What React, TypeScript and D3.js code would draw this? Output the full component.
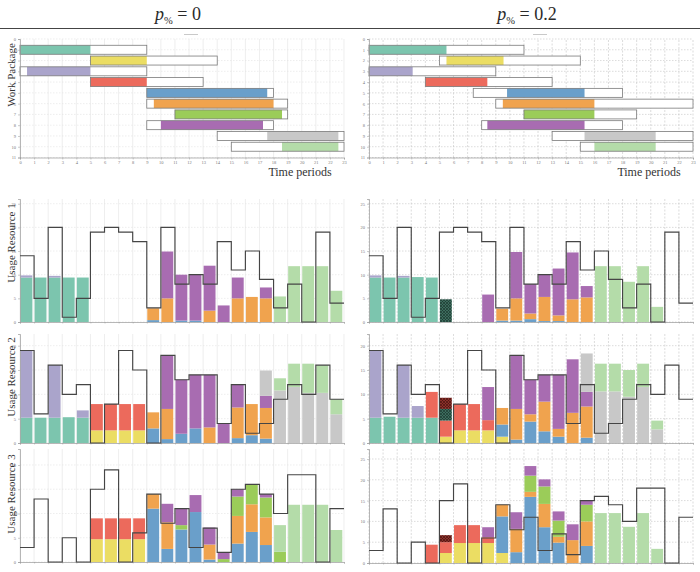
import React, { useEffect, useRef } from 'react';
import * as d3 from 'd3';

// time axis: 23 periods, boundaries 0..23
const periods = d3.range(23);
const xTicks = d3.range(24);
const rowTicks = d3.range(12);

const wpColors = ['#7cc5ae', '#ebdd63', '#aaa4cb', '#ec6a5c', '#6a9fca', '#f0a34e', '#9bcc59', '#a86cb1', '#c8c8c8', '#b4dca9'];

// work package windows (earliest start / latest finish) and the realised run, p% = 0
const winStart0 = [0, 5, 0, 5, 9, 9, 11, 9, 14, 15];
const winEnd0 = [9, 14, 9, 13, 18, 19, 19, 18, 23, 23];
const runStart0 = [0, 5, 0.5, 5, 9, 9.5, 11, 10, 17.55, 18.6];
const runEnd0 = [5, 9, 5, 9, 17.55, 18, 18.6, 17.25, 22.6, 22.6];

// same for p% = 0.2
const winStart2 = [0, 5, 0, 4, 7.4, 9, 11, 8, 13, 15];
const winEnd2 = [11, 15, 9, 13, 18, 23, 19, 18, 23, 23];
const runStart2 = [0, 5.5, 0, 4, 9.8, 9.5, 11, 8.4, 15.3, 16];
const runEnd2 = [5.5, 9.55, 3.1, 8.4, 15.3, 16, 16, 15.3, 20.35, 20.35];

// resource availability per period
const cap1 = [14, 5, 20, 1, 5, 19, 20, 19, 17, 3, 20, 8, 10, 8, 17, 11, 15, 9, 3, 8, 0, 19, 4];
const cap2 = [19, 6, 16, 10, 12, 0, 8, 19, 15, 0, 18, 13, 14, 14, 4, 12, 2, 4, 9, 12, 10, 16, 9];
const cap3 = [3, 13, 0, 5, 0, 15, 19, 0, 6, 14, 8, 11, 3, 7, 2, 15, 16, 14, 10, 18, 18, 0, 11];

// usage per work package: values start at the given period
// resource 1, p% = 0
const r1a_wp1 = [9.4, 9.4, 9.4, 9.4, 9.4];
const r1a_wp3 = [0.45, 0, 0.35];
const r1a_wp5 = [0.4, 0, 0.3, 0.3];
const r1a_wp6 = [2.5, 5, 0, 0, 2.4, 0, 5, 5.3, 5];
const r1a_wp8 = [9.9, 9.7, 9.7, 9.5, 3.5, 4.4, 0, 2.3];
const r1a_wp10 = [5.4, 11.8, 11.8, 11.8, 6.6];
// resource 1, p% = 0.2
const r1b_wp1 = [9.4, 9.4, 9.4, 9.5, 9.4];
const r1b_wp3 = [0.45, 0, 0.35];
const r1b_wp1x = [4.8];
const r1b_wp5 = [0.3, 0.3, 0.6, 0.2, 0.2];
const r1b_wp6 = [2.5, 4.7, 1.2, 5.1, 1.2, 4.8, 5.2];
const r1b_wp8 = [5.8, 0, 9.8, 6.2, 4.7, 9.9, 9.9, 2.4];
const r1b_wp10 = [11.8, 11.8, 8.5, 11.8, 3.2];
// resource 2, p% = 0
const r2a_wp1 = [5.2, 5.2, 5.2, 5.3, 5.2];
const r2a_wp3 = [13.8, 0, 10.8, 0, 1.5];
const r2a_wp2 = [2.6, 2.6, 2.6, 2.6];
const r2a_wp4 = [5.4, 5.4, 5.4, 5.4];
const r2a_wp5 = [3, 0.8, 1.9, 3, 0, 0, 1, 1.6, 0.9];
const r2a_wp6 = [3.3, 6.2, 0, 0, 3.2, 0, 6.3, 6.4, 6.3];
const r2a_wp8 = [11, 11.1, 11, 10.8, 4, 4.7, 0, 2.5];
const r2a_wp9 = [5.2, 10.8, 11.5, 10.3, 10.3, 5.9];
const r2a_wp10 = [2.5, 4.8, 6, 5.7, 3.1];
// resource 2, p% = 0.2
const r2b_wp1 = [5.2, 5.4, 5.2, 5.2, 5.2];
const r2b_wp3 = [13.8, 0, 10.8, 2.4];
const r2b_wp2 = [1.3, 2.6, 2.6, 2.6, 1.3];
const r2b_wp4 = [5.3, 3.3, 5.4, 5.4, 2.1];
const r2b_wp1x = [2.4];
const r2b_wp4x = [2.3];
const r2b_wp5 = [2.5, 0.7, 4.4, 2.4, 1.3, 0, 1.1];
const r2b_wp6 = [3.4, 6.3, 1.5, 6.1, 1.6, 6.2, 6.4];
const r2b_wp8 = [6.8, 0, 11, 7.1, 5.5, 11.1, 11, 3];
const r2b_wp9 = [7.9, 10.6, 10.6, 9.5, 11.5, 2.8];
const r2b_wp10 = [5.7, 5.7, 5.5, 4.8, 1.8];
// resource 3, p% = 0
const r3a_wp2 = [4.7, 4.7, 4.7, 4.7];
const r3a_wp4 = [4.3, 4.3, 4.3, 4.3];
const r3a_wp5 = [11, 2.7, 6.7, 10.3, 0.5, 0, 3.8, 6.2, 3.5];
const r3a_wp6 = [3, 5.5, 0, 0, 3.1, 0, 5.7, 5.7, 5.7];
const r3a_wp7 = [0.9, 0, 0, 0.6, 4, 4.1, 4.1, 2.1];
const r3a_wp8 = [3.8, 3.5, 3.5, 3.5, 1.4, 1.5, 0, 0.7];
const r3a_wp10 = [5.5, 11.8, 11.8, 11.8, 6.6];
// resource 3, p% = 0.2
const r3b_wp2 = [2.4, 4.8, 4.8, 4.8, 2.4];
const r3b_wp4 = [4.4, 2.6, 4.3, 4.3, 1.4];
const r3b_wp4x = [1.7];
const r3b_wp5 = [8.8, 2.6, 15.9, 8.6, 4.9, 0, 4.1];
const r3b_wp6 = [2.8, 5.6, 1.2, 5.6, 1.4, 5.5, 5.9];
const r3b_wp7 = [3.9, 4.2, 3.9, 0, 4];
const r3b_wp8 = [2.4, 0, 4, 2.3, 1.7, 2.2, 3.8, 1];
const r3b_wp10 = [12, 12, 8.7, 12, 3.4];

const stackKeys = ['wp1', 'wp2', 'wp3', 'wp4', 'wp1x', 'wp4x', 'wp5', 'wp6', 'wp7', 'wp8', 'wp9', 'wp10'];
const keyFill: Record<string, string> = {
    wp1x: 'url(#hatchGreen)',
    wp4x: 'url(#hatchRed)',
};
wpColors.forEach((c, i) => { keyFill['wp' + (i + 1)] = c; });

type Series = [string, number, number[]];

const columns = [
    {
        x0: 20, x1: 344, title: '0', labels: true, dashed: false,
        gantt: [winStart0, winEnd0, runStart0, runEnd0],
        r3Max: 23.3, r3Bottom: 562, r3Ticks: [0, 5, 10, 15, 20],
        usage: [
            [['wp1', 0, r1a_wp1], ['wp3', 0, r1a_wp3], ['wp5', 9, r1a_wp5], ['wp6', 9, r1a_wp6], ['wp8', 10, r1a_wp8], ['wp10', 18, r1a_wp10]],
            [['wp1', 0, r2a_wp1], ['wp3', 0, r2a_wp3], ['wp2', 5, r2a_wp2], ['wp4', 5, r2a_wp4], ['wp5', 9, r2a_wp5], ['wp6', 9, r2a_wp6], ['wp8', 10, r2a_wp8], ['wp9', 17, r2a_wp9], ['wp10', 18, r2a_wp10]],
            [['wp2', 5, r3a_wp2], ['wp4', 5, r3a_wp4], ['wp5', 9, r3a_wp5], ['wp6', 9, r3a_wp6], ['wp7', 11, r3a_wp7], ['wp8', 10, r3a_wp8], ['wp10', 18, r3a_wp10]],
        ] as Series[][],
    },
    {
        x0: 369, x1: 693, title: '0.2', labels: false, dashed: true,
        gantt: [winStart2, winEnd2, runStart2, runEnd2],
        r3Max: 27.4, r3Bottom: 563, r3Ticks: [0, 5, 10, 15, 20, 25],
        usage: [
            [['wp1', 0, r1b_wp1], ['wp3', 0, r1b_wp3], ['wp1x', 5, r1b_wp1x], ['wp5', 9, r1b_wp5], ['wp6', 9, r1b_wp6], ['wp8', 8, r1b_wp8], ['wp10', 16, r1b_wp10]],
            [['wp1', 0, r2b_wp1], ['wp3', 0, r2b_wp3], ['wp2', 5, r2b_wp2], ['wp4', 4, r2b_wp4], ['wp1x', 5, r2b_wp1x], ['wp4x', 5, r2b_wp4x], ['wp5', 9, r2b_wp5], ['wp6', 9, r2b_wp6], ['wp8', 8, r2b_wp8], ['wp9', 15, r2b_wp9], ['wp10', 16, r2b_wp10]],
            [['wp2', 5, r3b_wp2], ['wp4', 4, r3b_wp4], ['wp4x', 5, r3b_wp4x], ['wp5', 9, r3b_wp5], ['wp6', 9, r3b_wp6], ['wp7', 11, r3b_wp7], ['wp8', 8, r3b_wp8], ['wp10', 16, r3b_wp10]],
        ] as Series[][],
    },
];

const serif = "'Liberation Serif', 'DejaVu Serif', serif";

const addHatch = (defs: any, id: string, base: string, ink: string) => {
    const p = defs.append('pattern')
        .attr('id', id)
        .attr('patternUnits', 'userSpaceOnUse')
        .attr('width', 3)
        .attr('height', 3);
    p.append('rect').attr('width', 3).attr('height', 3).attr('fill', base);
    p.append('path').attr('d', 'M0,0L3,3M3,0L0,3').attr('stroke', ink).attr('stroke-width', 0.7);
};

const styleAxis = (sel: any) => {
    sel.select('.domain').attr('stroke', '#999').attr('stroke-width', 0.7);
    sel.selectAll('.tick line').attr('stroke', '#999').attr('stroke-width', 0.5);
    sel.selectAll('.tick text').attr('font-size', 4.5).attr('fill', '#777').attr('font-family', serif);
};

const drawGrid = (g: any, xs: any, ys: any, yVals: number[], dashed: boolean) => {
    const stroke = dashed ? '#c4c4c4' : '#e3e3e3';
    const [bottom, top] = ys.range();
    g.append('g').selectAll('line').data(xTicks).join('line')
        .attr('x1', (d: number) => xs(d)).attr('x2', (d: number) => xs(d))
        .attr('y1', top).attr('y2', bottom)
        .attr('stroke', stroke).attr('stroke-width', 0.6)
        .attr('stroke-dasharray', dashed ? '2,1.5' : null);
    g.append('g').selectAll('line').data(yVals).join('line')
        .attr('x1', xs(0)).attr('x2', xs(23))
        .attr('y1', (d: number) => ys(d)).attr('y2', (d: number) => ys(d))
        .attr('stroke', stroke).attr('stroke-width', 0.6)
        .attr('stroke-dasharray', '1.5,1.5');
};

const App = () => {
    const svgRef = useRef<SVGSVGElement>(null);

    useEffect(() => {
        const svg = d3.select(svgRef.current);
        svg.selectAll('*').remove();

        const defs = svg.append('defs');
        addHatch(defs, 'hatchGreen', '#3d6d5e', '#1c3a31');
        addHatch(defs, 'hatchRed', '#8b302a', '#4a1410');

        // rule under the column headings
        svg.append('line')
            .attr('x1', 0).attr('x2', 700).attr('y1', 28.5).attr('y2', 28.5)
            .attr('stroke', '#444').attr('stroke-width', 1);

        columns.forEach((col) => {
            const xs = d3.scaleLinear().domain([0, 23]).range([col.x0, col.x1]);
            const mid = (col.x0 + col.x1) / 2;
            const step = xs(1) - xs(0);

            // heading p% = value
            const head = svg.append('text')
                .attr('x', mid - 4).attr('y', 20)
                .attr('text-anchor', 'middle')
                .attr('font-family', serif)
                .attr('font-size', 18)
                .attr('fill', '#2a2a2a');
            head.append('tspan').attr('font-style', 'italic').text('p');
            head.append('tspan').attr('font-size', 10.5).attr('dy', 4).text('%');
            head.append('tspan').attr('dy', -4).text(` = ${col.title}`);

            // ---- work package schedule ----
            const ys = d3.scaleLinear().domain([0, 11]).range([39, 157.5]);
            const gg = svg.append('g');
            drawGrid(gg, xs, ys, rowTicks, col.dashed);

            svg.append('line')
                .attr('x1', mid + 2).attr('x2', mid + 16).attr('y1', 34.5).attr('y2', 34.5)
                .attr('stroke', '#bbb').attr('stroke-width', 0.8);

            const [ws, we, rs, re] = col.gantt;
            const barH = 9;
            const rows = d3.range(10);
            gg.append('g').selectAll('rect').data(rows).join('rect')
                .attr('x', (i: number) => xs(ws[i]))
                .attr('y', (i: number) => ys(i + 1) - barH / 2)
                .attr('width', (i: number) => xs(we[i]) - xs(ws[i]))
                .attr('height', barH)
                .attr('fill', '#fff');
            gg.append('g').selectAll('rect').data(rows).join('rect')
                .attr('x', (i: number) => xs(rs[i]))
                .attr('y', (i: number) => ys(i + 1) - barH / 2)
                .attr('width', (i: number) => xs(re[i]) - xs(rs[i]))
                .attr('height', barH)
                .attr('fill', (i: number) => wpColors[i]);
            gg.append('g').selectAll('rect').data(rows).join('rect')
                .attr('x', (i: number) => xs(ws[i]))
                .attr('y', (i: number) => ys(i + 1) - barH / 2)
                .attr('width', (i: number) => xs(we[i]) - xs(ws[i]))
                .attr('height', barH)
                .attr('fill', 'none')
                .attr('stroke', '#7a7a7a')
                .attr('stroke-width', 0.8);

            gg.append('g')
                .attr('transform', `translate(0,${ys(11)})`)
                .call(d3.axisBottom(xs).tickValues(xTicks).tickSize(2).tickPadding(1))
                .call(styleAxis);
            gg.append('g')
                .attr('transform', `translate(${xs(0)},0)`)
                .call(d3.axisLeft(ys).tickValues(rowTicks).tickSize(2).tickPadding(2))
                .call(styleAxis);

            gg.append('text')
                .attr('x', mid + 118).attr('y', 176)
                .attr('text-anchor', 'middle')
                .attr('font-family', serif)
                .attr('font-size', 12)
                .attr('fill', '#333')
                .text('Time periods');

            if (col.labels) {
                gg.append('text')
                    .attr('transform', 'translate(15,75) rotate(-90)')
                    .attr('text-anchor', 'middle')
                    .attr('font-family', serif)
                    .attr('font-size', 11)
                    .attr('fill', '#333')
                    .text('Work Package');
            }

            // ---- resource usage ----
            const layouts = [
                { bottom: 322, top: 199, max: 26, ticks: [0, 5, 10, 15, 20, 25], cap: cap1, labelY: 243 },
                { bottom: 443, top: 334, max: 22.4, ticks: [0, 5, 10, 15, 20], cap: cap2, labelY: 377 },
                { bottom: col.r3Bottom, top: 449, max: col.r3Max, ticks: col.r3Ticks, cap: cap3, labelY: 494 },
            ];

            layouts.forEach((lay, ri) => {
                const yr = d3.scaleLinear().domain([0, lay.max]).range([lay.bottom, lay.top]);
                const g = svg.append('g');
                drawGrid(g, xs, yr, lay.ticks, col.dashed);

                const table = periods.map((t) => {
                    const row: any = { t };
                    stackKeys.forEach((k) => { row[k] = 0; });
                    return row;
                });
                col.usage[ri].forEach(([key, start, vals]) => {
                    vals.forEach((v, i) => { table[start + i][key] = v; });
                });
                const layers = d3.stack().keys(stackKeys)(table);

                g.append('g').selectAll('g').data(layers).join('g')
                    .attr('fill', (d: any) => keyFill[d.key])
                    .selectAll('rect')
                    .data((d: any) => d.filter((s: any) => s[1] - s[0] > 0))
                    .join('rect')
                    .attr('x', (d: any) => xs(d.data.t) + 0.5)
                    .attr('width', step - 2.2)
                    .attr('y', (d: any) => yr(d[1]))
                    .attr('height', (d: any) => yr(d[0]) - yr(d[1]));

                g.append('g')
                    .attr('transform', `translate(0,${lay.bottom})`)
                    .call(d3.axisBottom(xs).tickValues(xTicks).tickSize(1.5).tickFormat(() => ''))
                    .call(styleAxis);
                g.append('g')
                    .attr('transform', `translate(${xs(0)},0)`)
                    .call(d3.axisLeft(yr).tickValues(lay.ticks).tickSize(2).tickPadding(2))
                    .call(styleAxis);

                // availability as a step line
                const pts: [number, number][] = lay.cap.map((c, t) => [t, c] as [number, number]);
                pts.push([23, lay.cap[22]]);
                const stepLine = d3.line<[number, number]>()
                    .x((d) => xs(d[0]))
                    .y((d) => yr(d[1]))
                    .curve(d3.curveStepAfter);
                g.append('path')
                    .attr('d', stepLine(pts))
                    .attr('fill', 'none')
                    .attr('stroke', '#454545')
                    .attr('stroke-width', 1.15);

                if (col.labels) {
                    g.append('text')
                        .attr('transform', `translate(15,${lay.labelY}) rotate(-90)`)
                        .attr('text-anchor', 'middle')
                        .attr('font-family', serif)
                        .attr('font-size', 11)
                        .attr('fill', '#333')
                        .text(`Usage Resource ${ri + 1}`);
                }
            });
        });
    }, []);

    return (
        <svg
            ref={svgRef}
            width={700}
            height={572}
            style={{ position: 'absolute', left: 0, top: 0, background: '#fff' }}
        ></svg>
    );
};

export default App;
